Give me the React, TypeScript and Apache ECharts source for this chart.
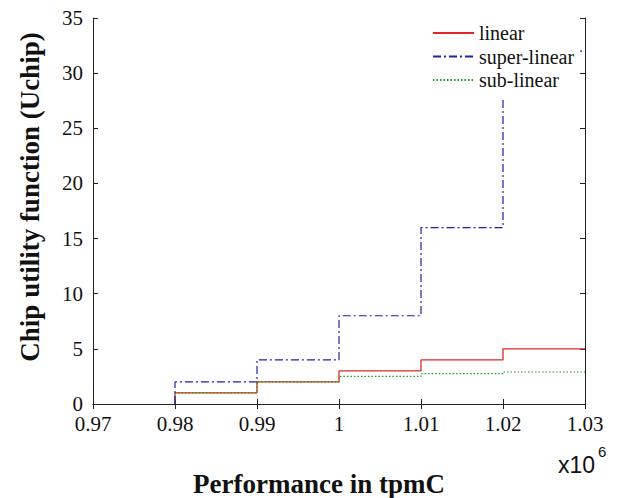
import React, { useEffect, useRef } from "react";
import * as echarts from "echarts";

// Step edges (tpmC) and per-interval utility values
const edges = [980000, 990000, 1000000, 1010000, 1020000, 1030000];
const linearVals = [1, 2, 3, 4, 5];
const superLinearVals = [2, 4, 8, 16, 32];
const subLinearVals = [1, 2, 2.5, 2.75, 2.9];
const seriesNames = ["linear", "super-linear", "sub-linear"];
const xTicks = { min: 970000, max: 1030000, interval: 10000 };
const yTicks = { min: 0, max: 35, interval: 5 };

function stepPoints(vals: number[]) {
  const pts: number[][] = [[edges[0], 0]];
  vals.forEach((v, i) => pts.push([edges[i], v]));
  pts.push([edges[edges.length - 1], vals[vals.length - 1]]);
  return pts;
}

const SERIF = "Liberation Serif";
const SANS = "Liberation Sans";

export default function App() {
  const ref = useRef<HTMLDivElement>(null);
  useEffect(() => {
    if (!ref.current) return;
    const chart = echarts.init(ref.current, undefined, { renderer: "svg" });
    const axisLine = { show: true, lineStyle: { color: "#222", width: 1 } };
    const tickIn = { show: true, inside: true, length: 5, lineStyle: { color: "#222" } };
    chart.setOption({
      animation: false,
      backgroundColor: "#fff",
      grid: { left: 93, right: 33, top: 18, bottom: 94, containLabel: false },
      xAxis: [
        {
          type: "value",
          ...xTicks,
          axisLine,
          axisTick: tickIn,
          splitLine: { show: false },
          axisLabel: {
            margin: 11,
            color: "#111",
            fontFamily: SERIF,
            fontSize: 21,
            lineHeight: 18,
            formatter: (v: number) => String(+(v / 1e6).toFixed(2)),
          },
        },
        {
          type: "value",
          position: "top",
          ...xTicks,
          axisLine,
          axisTick: tickIn,
          splitLine: { show: false },
          axisLabel: { show: false },
        },
      ],
      yAxis: [
        {
          type: "value",
          ...yTicks,
          axisLine,
          axisTick: tickIn,
          splitLine: { show: false },
          axisLabel: { margin: 10, color: "#111", fontFamily: SERIF, fontSize: 21, lineHeight: 18 },
        },
        {
          type: "value",
          position: "right",
          ...yTicks,
          axisLine,
          axisTick: tickIn,
          splitLine: { show: false },
          axisLabel: { show: false },
        },
      ],
      legend: {
        orient: "vertical",
        left: 405,
        top: 19,
        padding: [4, 6, 8, 27],
        backgroundColor: "#fff",
        itemWidth: 41,
        itemHeight: 10,
        itemGap: 3.5,
        data: seriesNames,
        itemStyle: { opacity: 0 },
        textStyle: { fontFamily: SERIF, fontSize: 20, color: "#111", lineHeight: 20 },
      },
      series: [
        {
          name: seriesNames[0],
          type: "line",
          step: "end",
          symbol: "none",
          data: stepPoints(linearVals),
          lineStyle: { color: "#e02626", width: 1.3 },
          itemStyle: { color: "#e02626" },
        },
        {
          name: seriesNames[2],
          type: "line",
          step: "end",
          symbol: "none",
          data: stepPoints(subLinearVals),
          lineStyle: { color: "#14a014", width: 1.2, type: [1.5, 2] },
          itemStyle: { color: "#14a014" },
        },
        {
          name: seriesNames[1],
          type: "line",
          step: "end",
          symbol: "none",
          data: stepPoints(superLinearVals),
          lineStyle: { color: "#2020a8", width: 1.2, type: [8, 3, 2, 3] },
          itemStyle: { color: "#2020a8" },
        },
      ],
      graphic: [
        {
          type: "text",
          x: 319,
          y: 470,
          style: {
            text: "Performance in tpmC",
            fontFamily: SERIF,
            fontWeight: "bold",
            fontSize: 27,
            fill: "#111",
            align: "center",
            verticalAlign: "top",
          },
        },
        {
          type: "text",
          x: 30,
          y: 197,
          rotation: Math.PI / 2,
          style: {
            text: "Chip utility function (Uchip)",
            fontFamily: SERIF,
            fontWeight: "bold",
            fontSize: 27,
            fill: "#111",
            align: "center",
            verticalAlign: "middle",
          },
        },
        {
          type: "text",
          x: 558,
          y: 453,
          style: {
            text: "x10",
            fontFamily: SANS,
            fontSize: 23,
            fill: "#111",
            verticalAlign: "top",
          },
        },
        {
          type: "text",
          x: 598,
          y: 444,
          style: {
            text: "6",
            fontFamily: SANS,
            fontSize: 15,
            fill: "#111",
            verticalAlign: "top",
          },
        },
      ],
    });
    return () => chart.dispose();
  }, []);
  return <div ref={ref} style={{ width: 618, height: 498, position: "absolute", left: 0, top: 0 }} />;
}
